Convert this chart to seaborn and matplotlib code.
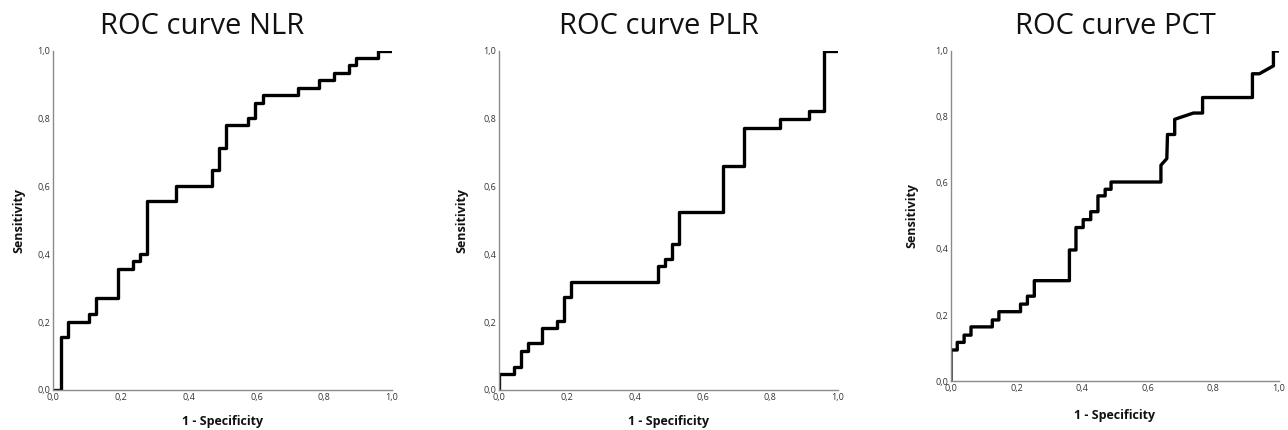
import matplotlib
matplotlib.use("Agg")
import matplotlib.pyplot as plt
import seaborn as sns
import pandas as pd

# ROC curve vertices (1 - specificity, sensitivity)
nlr_fpr = [0, 0.023, 0.023, 0.043, 0.043, 0.106, 0.106, 0.127, 0.127, 0.191, 0.191,
           0.236, 0.236, 0.256, 0.256, 0.276, 0.276, 0.362, 0.362, 0.468, 0.468,
           0.489, 0.489, 0.510, 0.510, 0.576, 0.576, 0.596, 0.596, 0.618, 0.618,
           0.724, 0.724, 0.786, 0.786, 0.828, 0.828, 0.872, 0.872, 0.895, 0.895,
           0.959, 0.959, 1.0]
nlr_tpr = [0, 0, 0.157, 0.157, 0.200, 0.200, 0.223, 0.223, 0.270, 0.270, 0.357,
           0.357, 0.381, 0.381, 0.400, 0.400, 0.558, 0.558, 0.602, 0.602, 0.648,
           0.648, 0.715, 0.715, 0.781, 0.781, 0.803, 0.803, 0.848, 0.848, 0.869,
           0.869, 0.891, 0.891, 0.914, 0.914, 0.936, 0.936, 0.958, 0.958, 0.979,
           0.979, 1.0, 1.0]

plr_fpr = [0, 0, 0.043, 0.043, 0.064, 0.064, 0.086, 0.086, 0.128, 0.128, 0.171,
           0.171, 0.192, 0.192, 0.213, 0.213, 0.469, 0.469, 0.490, 0.490, 0.510,
           0.510, 0.531, 0.531, 0.661, 0.661, 0.724, 0.724, 0.830, 0.830, 0.914,
           0.914, 0.959, 0.959, 1.0]
plr_tpr = [0, 0.046, 0.046, 0.069, 0.069, 0.115, 0.115, 0.138, 0.138, 0.182, 0.182,
           0.204, 0.204, 0.273, 0.273, 0.319, 0.319, 0.365, 0.365, 0.386, 0.386,
           0.432, 0.432, 0.526, 0.526, 0.661, 0.661, 0.774, 0.774, 0.798, 0.798,
           0.822, 0.822, 1.0, 1.0]

pct_fpr = [0, 0, 0.019, 0.019, 0.040, 0.040, 0.061, 0.061, 0.126, 0.126, 0.146,
           0.146, 0.212, 0.212, 0.233, 0.233, 0.254, 0.254, 0.361, 0.361, 0.381,
           0.381, 0.403, 0.403, 0.426, 0.426, 0.448, 0.448, 0.470, 0.470, 0.488,
           0.488, 0.640, 0.640, 0.658, 0.660, 0.682, 0.682, 0.739, 0.767, 0.767,
           0.919, 0.919, 0.940, 0.983, 0.983, 1.0]
pct_tpr = [0, 0.094, 0.094, 0.117, 0.117, 0.139, 0.139, 0.164, 0.164, 0.185, 0.185,
           0.210, 0.210, 0.233, 0.233, 0.257, 0.257, 0.304, 0.304, 0.397, 0.397,
           0.465, 0.465, 0.489, 0.489, 0.513, 0.513, 0.561, 0.561, 0.581, 0.581,
           0.603, 0.603, 0.654, 0.674, 0.747, 0.747, 0.793, 0.812, 0.812, 0.859,
           0.859, 0.931, 0.931, 0.955, 1.0, 1.0]

titles = ["ROC curve NLR", "ROC curve PLR", "ROC curve PCT"]
tick_vals = [0.0, 0.2, 0.4, 0.6, 0.8, 1.0]
tick_labels = ["0,0", "0,2", "0,4", "0,6", "0,8", "1,0"]
xlabel = "1 - Specificity"
ylabel = "Sensitivity"

sns.set_style("white")
plt.rcParams['font.family'] = ['Open Sans', 'DejaVu Sans']

W, H = 1288, 430
fig = plt.figure(figsize=(W / 100, H / 100), dpi=100)

# axes boxes in pixels: left, right, top, bottom
boxes = [(53, 392, 51, 390), (499, 838, 51, 390), (951, 1279, 51, 381)]
title_x = [202, 659, 1115]
xlabel_top = [415, 415, 409]   # pixel y of x-label top
ylabel_right = [25, 468, 918]  # pixel x of y-label right edge
data = [(nlr_fpr, nlr_tpr), (plr_fpr, plr_tpr), (pct_fpr, pct_tpr)]

for (l, r, t, b), (fx, ty), title, tx, xt, yr in zip(boxes, data, titles, title_x,
                                                      xlabel_top, ylabel_right):
    ax = fig.add_axes([l / W, 1 - b / H, (r - l) / W, (b - t) / H])
    df = pd.DataFrame({"fpr": fx, "tpr": ty})
    sns.lineplot(data=df, x="fpr", y="tpr", sort=False, estimator=None,
                 color="black", lw=2.4, ax=ax)
    ax.set_xlim(0, 1.0)
    ax.set_ylim(0, 1.0)
    ax.set_xticks(tick_vals)
    ax.set_xticklabels(tick_labels)
    ax.set_yticks(tick_vals)
    ax.set_yticklabels(tick_labels)
    ax.tick_params(axis="both", length=0, labelsize=6.5, colors="#333333", pad=2)
    for s in ["top", "right"]:
        ax.spines[s].set_visible(False)
    for s in ["left", "bottom"]:
        ax.spines[s].set_color("#8a8a8a")
        ax.spines[s].set_linewidth(1.0)
    ax.set_xlabel(xlabel, fontsize=9, fontweight="bold", color="#111111")
    ax.set_ylabel(ylabel, fontsize=9, fontweight="bold", color="#111111")
    hgt = b - t
    wid = r - l
    ax.xaxis.set_label_coords(0.5, -(xt - b) / hgt)
    ax.yaxis.set_label_coords(-(l - yr) / wid, 0.5)
    fig.text(tx / W, 1 - 27 / H, title, ha="center", va="center",
             fontsize=21, color="#111111")

fig.savefig("out.png", dpi=100)
